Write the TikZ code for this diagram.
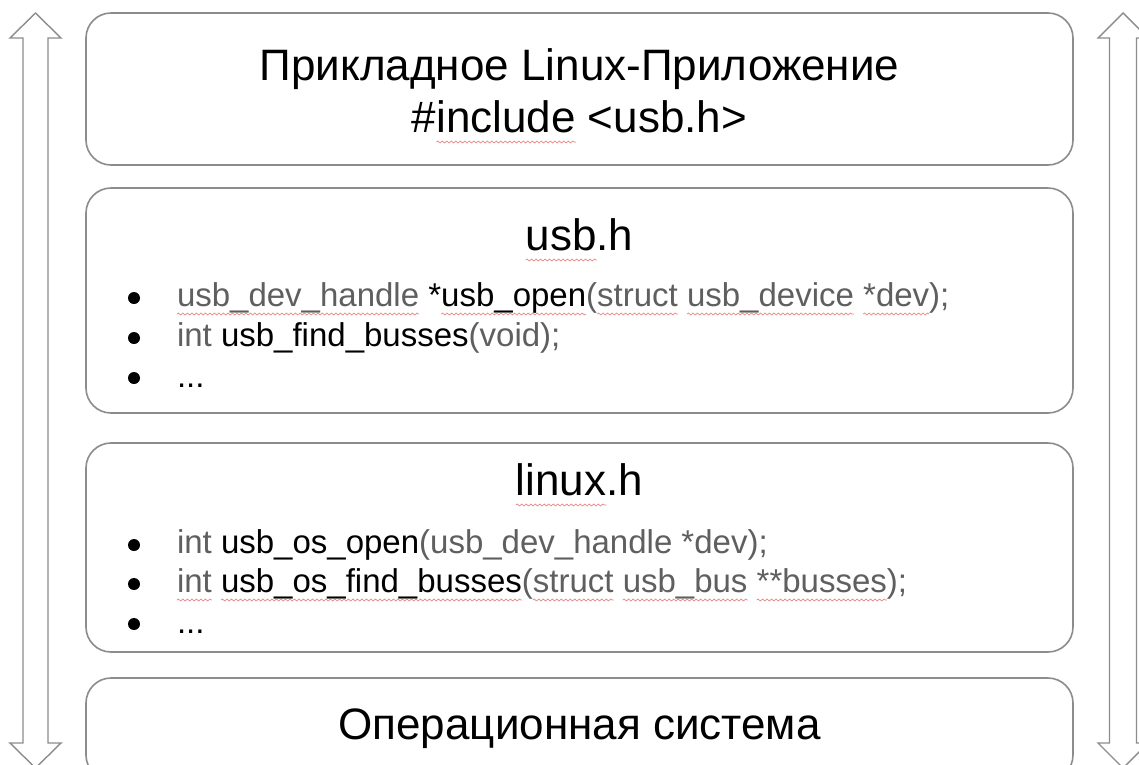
\documentclass[tikz,border=0pt]{standalone}
\usepackage{fontspec}
\setmainfont{Liberation Sans}
\usetikzlibrary{decorations.pathmorphing}
\definecolor{edge}{HTML}{8C8C8C}
\definecolor{dim}{HTML}{5F5F5F}
\definecolor{sqc}{HTML}{E88585}
\tikzset{
  layer/.style={draw=edge, line width=1.6pt, rounded corners=25pt, fill=white, minimum width=987pt, inner sep=0pt},
  big/.style={font=\fontsize{44}{52}\selectfont, anchor=base, inner sep=0pt, outer sep=0pt},
  item/.style={font=\fontsize{33}{40}\selectfont, anchor=base west, inner sep=0pt, outer sep=0pt},
  dimt/.style={item, text=dim},
  bul/.style={circle, fill=black, inner sep=0pt, minimum size=12pt},
  blockarrow/.style={draw=edge, line width=1.4pt, fill=white, line join=miter},
  squig/.style={draw=sqc, line width=0.7pt, decorate, decoration={snake, amplitude=1pt, segment length=4.5pt}},
}
\newcommand\squig[1]{\draw[squig] ([yshift=-8pt]#1.base west) -- ([yshift=-8pt]#1.base east);}
\newcommand\wsp{\null\ \null}
\begin{document}
\begin{tikzpicture}[x=1pt,y=-1pt]
\clip (0,0) rectangle (1139,764);
\fill[white] (0,0) rectangle (1139,764);

% double-headed block arrows
\draw[blockarrow] (35.5,13) -- (61,38) -- (48,38) -- (48,743) -- (61,743) -- (35.5,768)
  -- (10,743) -- (23,743) -- (23,38) -- (10,38) -- cycle;
\draw[blockarrow] (1123,13) -- (1148,38) -- (1136.5,38) -- (1136.5,743) -- (1148,743) -- (1123,768)
  -- (1098,743) -- (1109.5,743) -- (1109.5,38) -- (1098,38) -- cycle;

% layers
\node[layer, minimum height=152pt] (app) at (579.5,89) {};
\node[layer, minimum height=225pt] (usbh) at (579.5,300.5) {};
\node[layer, minimum height=209pt] (linuxh) at (579.5,547.5) {};
\node[layer, minimum height=102pt] (os) at (579.5,729) {};

% application
\node[big] (appt1) at (579.5,80) {Прикладное Linux-Приложение};
\node[big] (appt2) at (579.5,132) {\#include <usb.h>};
\draw[squig] ([xshift=24.5pt,yshift=-10pt]appt2.base west) -- ++(139.4,0);

% usb.h
\node[big] (usbt) at (579.5,250) {usb.h};
\draw[squig] ([yshift=-10pt]usbt.base west) -- ++(70.9,0);
\node[bul] (ub1) at (134,298) {};
\node[bul] (ub2) at (134,338) {};
\node[bul] (ub3) at (134,378) {};
% line 1
\node[dimt] (u1a) at (177,306) {usb\_dev\_handle};
\node[item] (u1b) at (u1a.base east) {\wsp*};
\node[item] (u1c) at (u1b.base east) {usb\_open};
\node[dimt] (u1d) at (u1c.base east) {(};
\node[dimt] (u1e) at (u1d.base east) {struct};
\node[dimt] (u1f) at (u1e.base east) {\wsp};
\node[dimt] (u1g) at (u1f.base east) {usb\_device};
\node[dimt] (u1h) at (u1g.base east) {\wsp};
\node[dimt] (u1i) at (u1h.base east) {*dev};
\node[dimt] (u1j) at (u1i.base east) {);};
\squig{u1a}\squig{u1c}\squig{u1e}\squig{u1g}\squig{u1i}
% line 2
\node[dimt] (u2a) at (177,346) {int};
\node[item] (u2b) at (u2a.base east) {\wsp usb\_find\_busses};
\node[dimt] (u2c) at (u2b.base east) {(void);};
% line 3
\node[item] (u3a) at (177,387) {...};

% linux.h
\node[big] (linuxt) at (579.5,495) {linux.h};
\draw[squig] ([yshift=-10pt]linuxt.base west) -- ++(90.5,0);
\node[bul] (lb1) at (134,545) {};
\node[bul] (lb2) at (134,584) {};
\node[bul] (lb3) at (134,624) {};
% line 1
\node[dimt] (l1a) at (177,553) {int};
\node[item] (l1b) at (l1a.base east) {\wsp usb\_os\_open};
\node[dimt] (l1c) at (l1b.base east) {(usb\_dev\_handle *dev);};
% line 2
\node[dimt] (l2a) at (177,592) {int};
\node[dimt] (l2b) at (l2a.base east) {\wsp};
\node[item] (l2c) at (l2b.base east) {usb\_os\_find\_busses};
\node[dimt] (l2d) at (l2c.base east) {(};
\node[dimt] (l2e) at (l2d.base east) {struct};
\node[dimt] (l2f) at (l2e.base east) {\wsp};
\node[dimt] (l2g) at (l2f.base east) {usb\_bus};
\node[dimt] (l2h) at (l2g.base east) {\wsp};
\node[dimt] (l2i) at (l2h.base east) {**busses};
\node[dimt] (l2j) at (l2i.base east) {);};
\squig{l2a}\squig{l2c}\squig{l2e}\squig{l2g}\squig{l2i}
% line 3
\node[item] (l3a) at (177,633) {...};

% OS
\node[big] (ost) at (579.5,739) {Операционная система};
\end{tikzpicture}
\end{document}
